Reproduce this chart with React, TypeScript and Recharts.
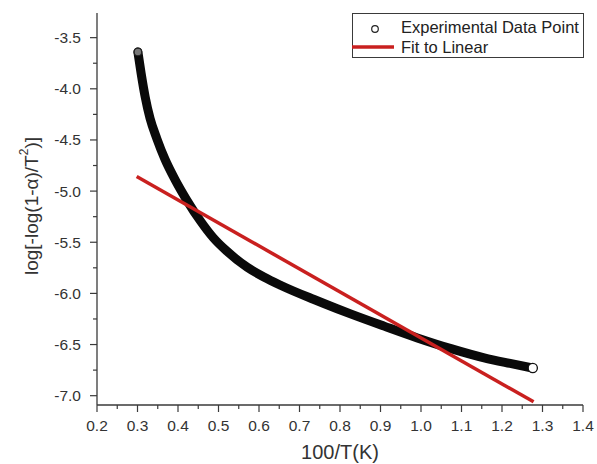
import React from 'react';
import { ComposedChart, Line, XAxis, YAxis, Legend } from 'recharts';

const expX = [0.301, 0.309, 0.319, 0.331, 0.348, 0.368, 0.393, 0.422, 0.455, 0.488, 0.52, 0.571, 0.612, 0.653, 0.736, 0.793, 0.826, 0.909, 0.991, 1.074, 1.156, 1.22, 1.276];
const expY = [-3.64, -3.85, -4.08, -4.29, -4.49, -4.69, -4.89, -5.09, -5.29, -5.46, -5.585, -5.745, -5.84, -5.92, -6.06, -6.15, -6.2, -6.32, -6.435, -6.54, -6.63, -6.685, -6.73];

// Linear fit endpoints
const fitX = [0.298, 1.278];
const fitY = [-4.857, -7.06];

// Ticks
const xMajorTicks = [0.2, 0.3, 0.4, 0.5, 0.6, 0.7, 0.8, 0.9, 1.0, 1.1, 1.2, 1.3, 1.4];
const xMinorTicks = [0.25, 0.35, 0.45, 0.55, 0.65, 0.75, 0.85, 0.95, 1.05, 1.15, 1.25, 1.35];
const yMajorTicks = [-3.5, -4.0, -4.5, -5.0, -5.5, -6.0, -6.5, -7.0];
const yMinorTicks = [-3.75, -4.25, -4.75, -5.25, -5.75, -6.25, -6.75];

const xDomain: [number, number] = [0.2, 1.4];
const yDomain: [number, number] = [-7.091, -3.259];

const expData = expX.map((x, i) => ({ x, y: expY[i] }));
const fitData = fitX.map((x, i) => ({ x, y: fitY[i] }));

const FONT = '"Liberation Sans", Arial, sans-serif';
const AXIS = '#3a3a3a';
const TXT = '#333';
const RED = '#c9201f';

const isMajor = (v: number, list: number[]) => list.some((m) => Math.abs(m - v) < 1e-6);

const XTick = (props: any) => {
  const { x, y, payload } = props;
  const major = isMajor(payload.value, xMajorTicks);
  return (
    <g>
      <line x1={x} x2={x} y1={y} y2={y + (major ? 7 : 4)} stroke={AXIS} strokeWidth={1.2} />
      {major && (
        <text x={x} y={y + 26} textAnchor="middle" fontSize={15.5} fontFamily={FONT} fill={TXT}>
          {payload.value.toFixed(1)}
        </text>
      )}
    </g>
  );
};

const YTick = (props: any) => {
  const { x, y, payload } = props;
  const major = isMajor(payload.value, yMajorTicks);
  return (
    <g>
      <line x1={x - (major ? 7 : 4)} x2={x} y1={y} y2={y} stroke={AXIS} strokeWidth={1.2} />
      {major && (
        <text x={x - 16} y={y + 5.5} textAnchor="end" fontSize={15.5} fontFamily={FONT} fill={TXT}>
          {payload.value.toFixed(1)}
        </text>
      )}
    </g>
  );
};

const YLabel = () => (
  <text
    x={31}
    y={206}
    transform="rotate(-90, 31, 206)"
    textAnchor="middle"
    dominantBaseline="central"
    fontSize={19}
    fontFamily={FONT}
    fill={TXT}
  >
    log[-log(1-α)/T
    <tspan dy={-7} fontSize={12}>2</tspan>
    <tspan dy={7}>)]</tspan>
  </text>
);

const XLabel = () => (
  <text x={340} y={459} textAnchor="middle" fontSize={20} fontFamily={FONT} fill={TXT}>
    100/T(K)
  </text>
);

const LegendBox = () => (
  <div
    style={{
      position: 'relative',
      boxSizing: 'border-box',
      width: 232,
      height: 45,
      border: `1.2px solid ${AXIS}`,
      background: '#fff',
      fontFamily: FONT,
      fontSize: 16.5,
      color: '#222',
    }}
  >
    <svg width={232} height={45} style={{ position: 'absolute', left: -1, top: -1 }}>
      <circle cx={23} cy={16} r={3.3} fill="#fff" stroke="#222" strokeWidth={1.2} />
      <line x1={0} x2={42} y1={34} y2={34} stroke={RED} strokeWidth={3.5} />
    </svg>
    <div style={{ position: 'absolute', left: 48, top: 3, lineHeight: '20px', whiteSpace: 'nowrap' }}>
      Experimental Data Point
    </div>
    <div style={{ position: 'absolute', left: 48, top: 23, lineHeight: '20px', whiteSpace: 'nowrap' }}>
      Fit to Linear
    </div>
  </div>
);

const lastIdx = expData.length - 1;
const ExpDot = (props: any) => {
  const { cx, cy, index } = props;
  if (index === lastIdx) {
    return <circle key={`d${index}`} cx={cx} cy={cy} r={4.6} fill="#fff" stroke="#111" strokeWidth={1.3} />;
  }
  if (index === 0) {
    return <circle key={`d${index}`} cx={cx} cy={cy} r={3.8} fill="#777" stroke="#222" strokeWidth={1.2} />;
  }
  return <g key={`d${index}`} />;
};

export default function App() {
  return (
    <div style={{ position: 'absolute', left: 0, top: 0, width: 597, height: 464, background: '#fff' }}>
      <ComposedChart width={597} height={464} margin={{ top: 13, right: 14, bottom: 0, left: 0 }}>
        <XAxis
          dataKey="x"
          type="number"
          domain={xDomain}
          ticks={[...xMajorTicks, ...xMinorTicks].sort((a, b) => a - b)}
          interval={0}
          allowDataOverflow
          height={59}
          tickSize={0}
          tickMargin={0}
          tickLine={false}
          axisLine={{ stroke: AXIS, strokeWidth: 1.3 }}
          tick={<XTick />}
          label={<XLabel />}
        />
        <YAxis
          dataKey="y"
          type="number"
          domain={yDomain}
          ticks={[...yMajorTicks, ...yMinorTicks].sort((a, b) => a - b)}
          interval={0}
          allowDataOverflow
          width={97}
          tickSize={0}
          tickMargin={0}
          tickLine={false}
          axisLine={{ stroke: AXIS, strokeWidth: 1.3 }}
          tick={<YTick />}
          label={<YLabel />}
        />
        <XAxis
          xAxisId="top"
          orientation="top"
          type="number"
          domain={xDomain}
          height={0}
          tick={false}
          tickLine={false}
          axisLine={{ stroke: AXIS, strokeWidth: 1.3 }}
        />
        <YAxis
          yAxisId="right"
          orientation="right"
          type="number"
          domain={yDomain}
          width={0}
          tick={false}
          tickLine={false}
          axisLine={{ stroke: AXIS, strokeWidth: 1.3 }}
        />
        <Legend
          verticalAlign="middle"
          align="center"
          wrapperStyle={{ top: 13, left: 352, width: 232, height: 45 }}
          content={() => <LegendBox />}
        />
        <Line
          data={expData}
          dataKey="y"
          type="monotone"
          stroke="#0a0a0a"
          strokeWidth={9}
          strokeLinecap="round"
          dot={ExpDot}
          activeDot={false}
          isAnimationActive={false}
          name="Experimental Data Point"
        />
        <Line
          data={fitData}
          dataKey="y"
          type="linear"
          stroke={RED}
          strokeWidth={3.5}
          dot={false}
          activeDot={false}
          isAnimationActive={false}
          name="Fit to Linear"
        />
      </ComposedChart>
    </div>
  );
}
